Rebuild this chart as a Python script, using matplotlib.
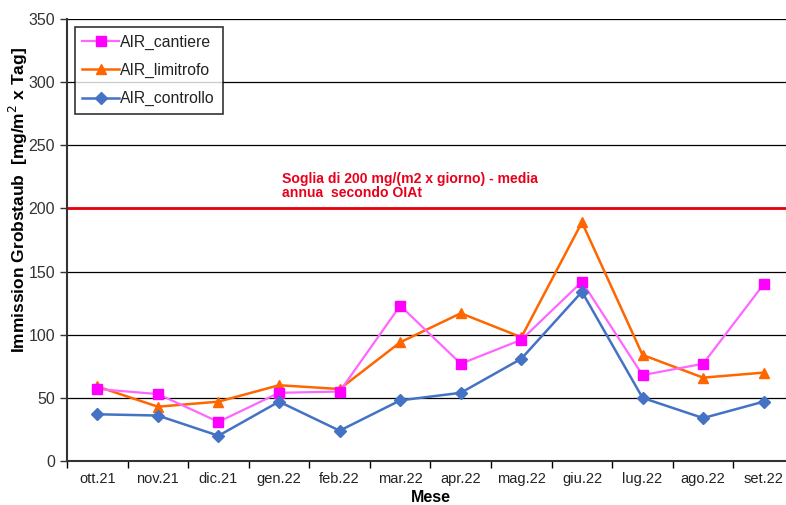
import matplotlib.pyplot as plt
import numpy as np

plt.rcParams["font.family"] = ["Liberation Sans", "DejaVu Sans"]

months = ["ott.21", "nov.21", "dic.21", "gen.22", "feb.22", "mar.22",
          "apr.22", "mag.22", "giu.22", "lug.22", "ago.22", "set.22"]
cantiere = [57, 53, 31, 54, 55, 123, 77, 96, 142, 68, 77, 140]
limitrofo = [59, 43, 47, 60, 57, 94, 117, 98, 189, 84, 66, 70]
controllo = [37, 36, 20, 47, 24, 48, 54, 81, 134, 50, 34, 47]
soglia = 200

fig = plt.figure(figsize=(7.86, 5.05), dpi=100)
# right side of the plot area runs slightly past the image edge
ax = fig.add_axes([67 / 786, 44 / 505, 727 / 786, 442 / 505])

x = np.arange(len(months))
ax.plot(x, cantiere, color="#ff66ff", lw=1.6, marker="s", ms=7,
        mfc="#ff00ff", mec="#ff00ff", label="AIR_cantiere", zorder=4)
ax.plot(x, limitrofo, color="#ff6600", lw=1.8, marker="^", ms=7,
        label="AIR_limitrofo", zorder=3)
ax.plot(x, controllo, color="#4472c4", lw=1.8, marker="D", ms=6,
        label="AIR_controllo", zorder=5)

ax.axhline(soglia, color="#e8000f", lw=2, zorder=2)
ax.text(3.05, 207, "Soglia di 200 mg/(m2 x giorno) - media\nannua  secondo OIAt",
        color="#e8001c", fontsize=10.1, fontweight="bold", linespacing=0.95,
        va="bottom", ha="left")

ax.set_xlim(-0.5, len(months) - 0.5)
ax.set_ylim(0, 350)
ax.set_yticks(np.arange(0, 351, 50))
ax.yaxis.grid(True, color="black", lw=0.9)
ax.set_axisbelow(True)
ax.set_xticks(x)
ax.set_xticklabels(months)
ax.set_xticks(np.arange(-0.5, len(months), 1), minor=True)
ax.tick_params(axis="x", which="major", length=0, pad=8, labelsize=10.5,
               labelcolor="#222222")
ax.tick_params(axis="x", which="minor", length=5, width=1)
ax.tick_params(axis="y", length=5, width=1, labelsize=11.5, colors="#333333",
               labelcolor="#333333")

for side in ["top", "right"]:
    ax.spines[side].set_visible(False)
ax.spines["left"].set_linewidth(1.5)
ax.spines["left"].set_color("#333333")
ax.spines["bottom"].set_linewidth(1.5)
ax.spines["bottom"].set_color("#333333")

ax.set_xlabel("Mese", fontsize=11.5, fontweight="bold", labelpad=3)
ax.set_ylabel("Immission Grobstaub  [mg/m$^2$ x Tag]", fontsize=12.5,
              fontweight="bold")
ax.yaxis.set_label_coords(-0.051, 0.59)

leg = ax.legend(loc="upper left", bbox_to_anchor=(0.0105, 0.983), fontsize=11.3,
                frameon=True, fancybox=False, edgecolor="black",
                handlelength=2.3, borderpad=0.5, labelspacing=0.85,
                handletextpad=0.1, borderaxespad=0)
leg.get_frame().set_linewidth(1.2)
for t in leg.get_texts():
    t.set_color("#222222")

fig.savefig("out.png", dpi=100)
plt.close("all")
